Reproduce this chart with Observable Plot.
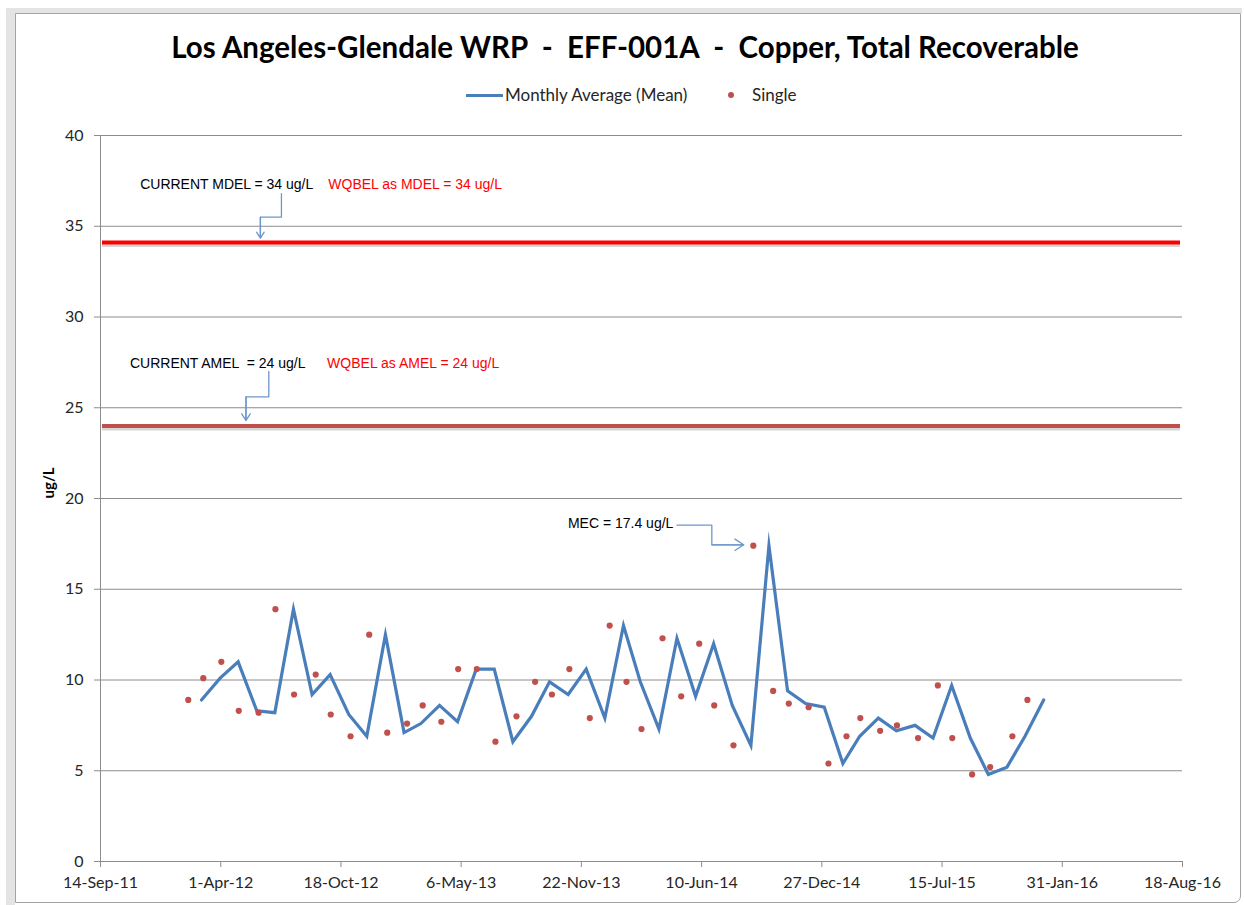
<!DOCTYPE html>
<html>
<head>
<meta charset="utf-8">
<script src="https://cdn.jsdelivr.net/npm/d3@7"></script>
<script src="https://cdn.jsdelivr.net/npm/@observablehq/plot@0.6"></script>
<style>
  body { margin: 0; background: #fff; }
  #wrap { position: relative; width: 1244px; height: 905px; overflow: hidden; font-family: Lato, "Open Sans", sans-serif; }
  #band { position: absolute; left: 6px; top: 8px; right: 2px; bottom: 0; border-left: 9px solid #e4e4e4; border-top: 5px solid #e4e4e4; }
  #frame { position: absolute; left: 15px; top: 13px; width: 1224px; height: 888px; border: 1px solid #a3a3a3; border-radius: 0 0 7px 0; }
  #header { position: relative; height: 120px; }
  #title { position: absolute; left: 0; width: 1250px; top: 27px; line-height: 40px; text-align: center; font-weight: bold; font-size: 29.5px; color: #000; white-space: pre; }
  .leg { position: absolute; top: 84px; line-height: 22px; font-size: 17px; color: #262626; white-space: pre; }
  #legLine { position: absolute; left: 466px; top: 93.5px; width: 37px; height: 3px; background: #4a7ebb; }
  #legDot { position: absolute; left: 728px; top: 92px; width: 6px; height: 6px; border-radius: 50%; background: #c0504d; }
  #chart { position: absolute; left: 0; top: 120px; }
</style>
</head>
<body>
<div id="wrap">
  <div id="band"></div>
  <div id="frame"></div>
  <div id="header">
    <div id="title">Los Angeles-Glendale WRP  -  EFF-001A  -  Copper, Total Recoverable</div>
    <div id="legLine"></div>
    <div class="leg" style="left:505px">Monthly Average (Mean)</div>
    <div id="legDot"></div>
    <div class="leg" style="left:752px">Single</div>
  </div>
  <div id="chart"></div>
</div>
<script>
// ---- data ----
const xTickLabels = ["14-Sep-11", "1-Apr-12", "18-Oct-12", "6-May-13", "22-Nov-13", "10-Jun-14", "27-Dec-14", "15-Jul-15", "31-Jan-16", "18-Aug-16"];
const yTicks = [0, 5, 10, 15, 20, 25, 30, 35, 40];

const singleDates = [
  "2012-02-07", "2012-03-03", "2012-04-02", "2012-05-01", "2012-06-03", "2012-07-01", "2012-08-01", "2012-09-06", "2012-10-01", "2012-11-03", "2012-12-04",
  "2013-01-03", "2013-02-05", "2013-03-03", "2013-04-03", "2013-05-01", "2013-06-01", "2013-07-02", "2013-08-06", "2013-09-06", "2013-10-04", "2013-11-02", "2013-12-06",
  "2014-01-08", "2014-02-05", "2014-03-02", "2014-04-06", "2014-05-07", "2014-06-06", "2014-07-01", "2014-08-02", "2014-09-04", "2014-10-07", "2014-11-02", "2014-12-05",
  "2015-01-07", "2015-02-06", "2015-03-01", "2015-04-03", "2015-05-01", "2015-06-05", "2015-07-08", "2015-08-01", "2015-09-03", "2015-10-03", "2015-11-09", "2015-12-04"
];
const singleValues = [
  8.9, 10.1, 11.0, 8.3, 8.2, 13.9, 9.2, 10.3, 8.1, 6.9, 12.5,
  7.1, 7.6, 8.6, 7.7, 10.6, 10.6, 6.6, 8.0, 9.9, 9.2, 10.6, 7.9,
  13.0, 9.9, 7.3, 12.3, 9.1, 12.0, 8.6, 6.4, 17.4, 9.4, 8.7, 8.5,
  5.4, 6.9, 7.9, 7.2, 7.5, 6.8, 9.7, 6.8, 4.8, 5.2, 6.9, 8.9
];

const meanDates = [
  "2012-02-29", "2012-03-31", "2012-04-30", "2012-05-31", "2012-06-30", "2012-07-31", "2012-08-31", "2012-09-30", "2012-10-31", "2012-11-30", "2012-12-31",
  "2013-01-31", "2013-02-28", "2013-03-31", "2013-04-30", "2013-05-31", "2013-06-30", "2013-07-31", "2013-08-31", "2013-09-30", "2013-10-31", "2013-11-30", "2013-12-31",
  "2014-01-31", "2014-02-28", "2014-03-31", "2014-04-30", "2014-05-31", "2014-06-30", "2014-07-31", "2014-08-31", "2014-09-30", "2014-10-31", "2014-11-30", "2014-12-31",
  "2015-01-31", "2015-02-28", "2015-03-31", "2015-04-30", "2015-05-31", "2015-06-30", "2015-07-31", "2015-08-31", "2015-09-30", "2015-10-31", "2015-11-30", "2015-12-31"
];
const meanValues = [
  8.9, 10.1, 11.0, 8.3, 8.2, 13.9, 9.2, 10.3, 8.1, 6.9, 12.5,
  7.1, 7.6, 8.6, 7.7, 10.6, 10.6, 6.6, 8.0, 9.9, 9.2, 10.6, 7.9,
  13.0, 9.9, 7.3, 12.3, 9.1, 12.0, 8.6, 6.4, 17.4, 9.4, 8.7, 8.5,
  5.4, 6.9, 7.9, 7.2, 7.5, 6.8, 9.7, 6.8, 4.8, 5.2, 6.9, 8.9
];

const mdelValue = 34.1;
const amelValue = 24.0;

const noteTexts = ["CURRENT MDEL = 34 ug/L", "WQBEL as MDEL = 34 ug/L", "CURRENT AMEL  = 24 ug/L", "WQBEL as AMEL = 24 ug/L", "MEC = 17.4 ug/L"];
const noteDates = ["2011-11-19", "2012-09-27", "2011-11-02", "2012-09-25", "2014-04-24"];
const noteValues = [37.3, 37.3, 27.46, 27.46, 18.62];
const noteColors = ["black", "red", "black", "red", "black"];
const noteAnchors = ["start", "start", "start", "start", "end"];

const connectorIds = ["mdel", "mdel", "mdel", "mdel", "amel", "amel", "amel", "amel", "mec", "mec", "mec", "mec"];
const connectorDates = ["2012-07-11", "2012-07-11", "2012-06-06", "2012-06-06", "2012-06-20", "2012-06-20", "2012-05-13", "2012-05-13", "2014-04-30", "2014-06-27", "2014-06-27", "2014-08-19"];
const connectorValues = [36.8, 35.5, 35.5, 34.35, 27.0, 25.6, 25.6, 24.3, 18.53, 18.53, 17.45, 17.45];

// ---- build tables ----
const parse = d3.utcParse("%Y-%m-%d");
const tickParse = d3.utcParse("%d-%b-%y");
const xTicks = xTickLabels.map(tickParse);
const singles = singleDates.map((d, i) => ({date: parse(d), value: singleValues[i]}));
const means = meanDates.map((d, i) => ({date: parse(d), value: meanValues[i]}));
const notes = noteTexts.map((t, i) => ({text: t, date: parse(noteDates[i]), value: noteValues[i], color: noteColors[i], anchor: noteAnchors[i]}));
const connectors = connectorIds.map((id, i) => ({id, date: parse(connectorDates[i]), value: connectorValues[i]}));
const heads = d3.groups(connectors, d => d.id).map(([id, pts]) => {
  const a = pts[pts.length - 2], b = pts[pts.length - 1];
  return {x1: a.date, y1: a.value, x2: b.date, y2: b.value};
});

const gridColor = "#8c8c8c";
const arrowColor = "#6f96cb";
const noteFont = "'Liberation Sans', Arial, sans-serif";

const chart = Plot.plot({
  width: 1244,
  height: 785,
  marginLeft: 100,
  marginRight: 62,
  marginTop: 15,
  marginBottom: 44,
  style: {fontFamily: "Lato, 'Open Sans', sans-serif", fontSize: "16px", color: "#262626", background: "transparent", overflow: "visible"},
  x: {type: "utc", domain: [xTicks[0], xTicks[xTicks.length - 1]]},
  y: {domain: [0, 40]},
  marks: [
    Plot.gridY(yTicks, {stroke: gridColor, strokeOpacity: 1}),
    Plot.ruleY([0], {stroke: gridColor}),
    Plot.ruleX([xTicks[0]], {stroke: gridColor}),
    Plot.axisY(yTicks, {tickSize: 6, tickPadding: 11, stroke: gridColor, fill: "#262626", label: null}),
    Plot.axisX(xTicks, {tickSize: 6, tickPadding: 9, stroke: gridColor, fill: "#262626", tickFormat: d3.utcFormat("%-d-%b-%y"), label: null}),
    Plot.text(["ug/L"], {frameAnchor: "left", dx: -51, rotate: -90, fontWeight: "bold", fontSize: 15, fill: "#000"}),
    // limit lines with soft shadow
    Plot.ruleY([mdelValue], {stroke: "#000", strokeOpacity: 0.16, strokeWidth: 4, dy: 2.5, insetLeft: 2, insetRight: 2}),
    Plot.ruleY([mdelValue], {stroke: "#ff0000", strokeWidth: 4, insetLeft: 2, insetRight: 2}),
    Plot.ruleY([amelValue], {stroke: "#000", strokeOpacity: 0.16, strokeWidth: 4, dy: 2.5, insetLeft: 2, insetRight: 2}),
    Plot.ruleY([amelValue], {stroke: "#c0504d", strokeWidth: 4, insetLeft: 2, insetRight: 2}),
    // series
    Plot.line(means, {x: "date", y: "value", stroke: "#4a7ebb", strokeWidth: 3.2, strokeLinejoin: "miter", strokeMiterlimit: 10}),
    Plot.dot(singles, {x: "date", y: "value", r: 3.1, fill: "#c0504d", stroke: "none"}),
    // annotations
    Plot.line(connectors, {x: "date", y: "value", z: "id", stroke: arrowColor, strokeWidth: 1.3, strokeLinejoin: "miter"}),
    Plot.arrow(heads, {x1: "x1", y1: "y1", x2: "x2", y2: "y2", stroke: arrowColor, strokeWidth: 1.3, headLength: 12, headAngle: 66}),
    Plot.text(notes.filter(d => d.color === "black" && d.anchor === "start"), {x: "date", y: "value", text: "text", textAnchor: "start", fill: "#000", fontSize: 14, fontFamily: noteFont}),
    Plot.text(notes.filter(d => d.color === "black" && d.anchor === "end"), {x: "date", y: "value", text: "text", textAnchor: "end", fill: "#000", fontSize: 14, fontFamily: noteFont}),
    Plot.text(notes.filter(d => d.color === "red"), {x: "date", y: "value", text: "text", textAnchor: "start", fill: "#ff0000", fontSize: 14, fontFamily: noteFont})
  ]
});
document.getElementById("chart").appendChild(chart);
</script>
</body>
</html>
